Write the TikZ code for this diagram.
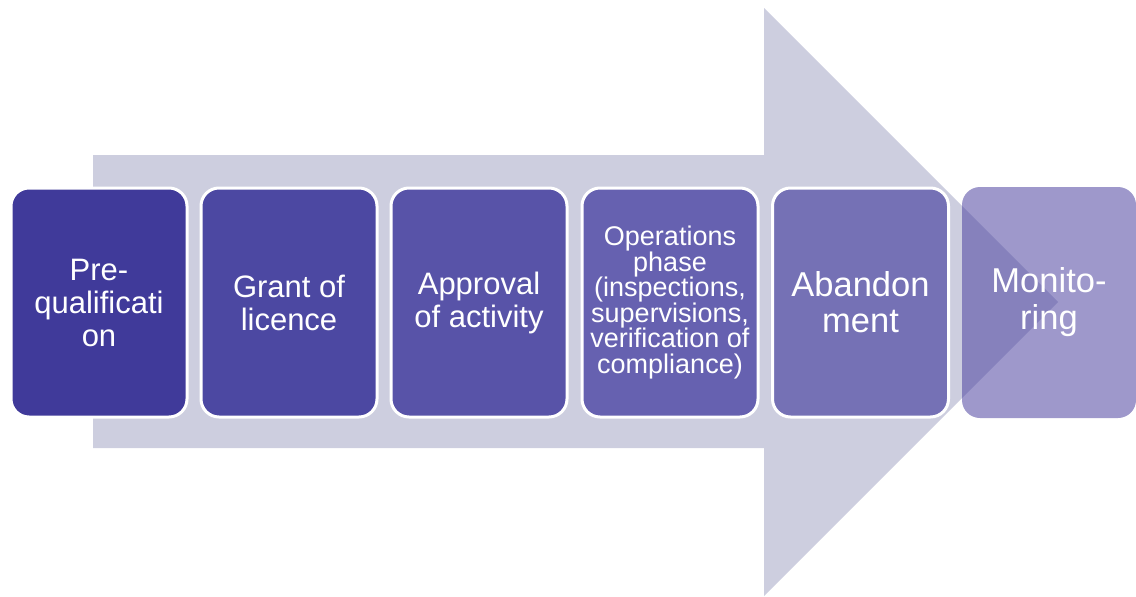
\documentclass[tikz,border=0pt]{standalone}
\usepackage{fontspec}
\setmainfont{Liberation Sans}
\definecolor{arrowgray}{RGB}{205,206,223}
\definecolor{cA}{RGB}{64,58,154}
\definecolor{cB}{RGB}{76,72,162}
\definecolor{cC}{RGB}{88,83,168}
\definecolor{cD}{RGB}{102,97,176}
\definecolor{cE}{RGB}{117,113,181}
\definecolor{cF}{RGB}{72,61,157}
\begin{document}
\begin{tikzpicture}[x=1pt,y=-1pt,
  stagebox/.style={rounded corners=18pt, draw=white, line width=3pt,
    minimum width=176pt, minimum height=229pt, inner sep=0pt,
    text=white, align=center, font=\fontsize{31}{33}\selectfont},
  lastbox/.style={rounded corners=18pt, draw=none, fill=cF, fill opacity=0.53,
    text opacity=1, minimum width=174pt, minimum height=231pt, inner sep=0pt,
    text=white, align=center, font=\fontsize{34.5}{37}\selectfont}]
\useasboundingbox (0,0) rectangle (1136,597);
\fill[arrowgray] (93,155) -- (764,155) -- (764,8) -- (1058,302) -- (764,596) -- (764,448) -- (93,448) -- cycle;
\node[stagebox, fill=cA] (s1) at (99,302.5) {Pre-\\qualificati\\on};
\node[stagebox, fill=cB] (s2) at (289,302.5) {Grant of\\licence};
\node[stagebox, fill=cC] (s3) at (479,302.5) {Approval\\of activity};
\node[stagebox, fill=cD, font=\fontsize{27}{25.5}\selectfont] (s4) at (670,302.5) {Operations\\phase\\(inspections,\\supervisions,\\verification of\\compliance)};
\node[stagebox, fill=cE, font=\fontsize{34.5}{36}\selectfont] (s5) at (860.5,302.5) {Abandon\\ment};
\node[lastbox] (s6) at (1049,302.5) {Monito-\\ring};
\end{tikzpicture}
\end{document}
